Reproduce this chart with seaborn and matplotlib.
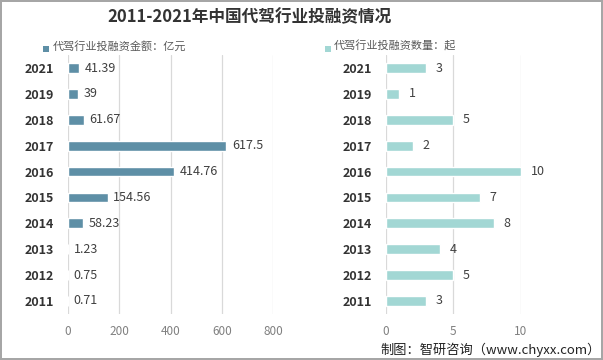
import pandas as pd
import matplotlib.pyplot as plt
import seaborn as sns
from matplotlib.patches import Rectangle

years = ['2021', '2019', '2018', '2017', '2016', '2015', '2014', '2013', '2012', '2011']
amounts = [41.39, 39, 61.67, 617.5, 414.76, 154.56, 58.23, 1.23, 0.75, 0.71]
counts = [3, 1, 5, 2, 10, 7, 8, 4, 5, 3]
amount_labels = ['41.39', '39', '61.67', '617.5', '414.76', '154.56', '58.23', '1.23', '0.75', '0.71']

title = '2011-2021年中国代驾行业投融资情况'
legend_left = '代驾行业投融资金额：亿元'
legend_right = '代驾行业投融资数量：起'
source = '制图：智研咨询（www.chyxx.com）'

sns.set_style('white')
plt.rcParams['font.family'] = ['Noto Sans CJK SC', 'DejaVu Sans']

df = pd.DataFrame({'year': years, 'amount': amounts, 'count': counts})

fig = plt.figure(figsize=(6.03, 3.6), dpi=100)
fig.patch.set_edgecolor('#a6a6a6')
fig.patch.set_linewidth(1.5)

ax1 = fig.add_axes([0.1128, 0.128, 0.340, 0.719])
ax2 = fig.add_axes([0.640, 0.128, 0.224, 0.719])


def style_axis(ax, xmax, ticks):
    ax.set_xlim(0, xmax)
    ax.set_xticks(ticks)
    ax.grid(axis='x', color='#d9d9d9', linewidth=0.9)
    ax.set_axisbelow(True)
    for s in ax.spines.values():
        s.set_visible(False)
    ax.set_xlabel('')
    ax.set_ylabel('')
    ax.tick_params(axis='x', colors='#808080', labelsize=8.5, length=0, pad=8)
    ax.tick_params(axis='y', length=0, pad=10)
    for lab in ax.get_yticklabels():
        lab.set_fontweight('bold')
        lab.set_color('#333333')
        lab.set_fontsize(9)


sns.barplot(data=df, y='year', x='amount', order=years, color='#5e8fa6',
            width=0.38, saturation=1, ax=ax1)
style_axis(ax1, 800, [0, 200, 400, 600, 800])
for i, (v, t) in enumerate(zip(amounts, amount_labels)):
    ax1.text(v + 22, i, t, va='center', ha='left', fontsize=9, color='#404040')

sns.barplot(data=df, y='year', x='count', order=years, color='#a2d7d4',
            width=0.38, saturation=1, ax=ax2)
style_axis(ax2, 10, [0, 5, 10])
for i, v in enumerate(counts):
    ax2.text(v + 0.7, i, str(v), va='center', ha='left', fontsize=9, color='#404040')

fig.text(0.413, 0.952, title, ha='center', va='center', fontsize=12,
         fontweight='bold', color='#333333')

# legend keys as small squares
for x0, c in [(43 / 603, '#5e8fa6'), (325 / 603, '#a2d7d4')]:
    fig.add_artist(Rectangle((x0, 0.856), 6 / 603, 6 / 360, transform=fig.transFigure,
                             facecolor=c, edgecolor='none'))
fig.text(0.087, 0.872, legend_left, ha='left', va='center', fontsize=8, color='#595959')
fig.text(0.553, 0.872, legend_right, ha='left', va='center', fontsize=8, color='#595959')
fig.text(0.997, 0.028, source, ha='right', va='center', fontsize=9.5, color='#222222')

fig.savefig('out.png', dpi=100, edgecolor=fig.get_edgecolor())
